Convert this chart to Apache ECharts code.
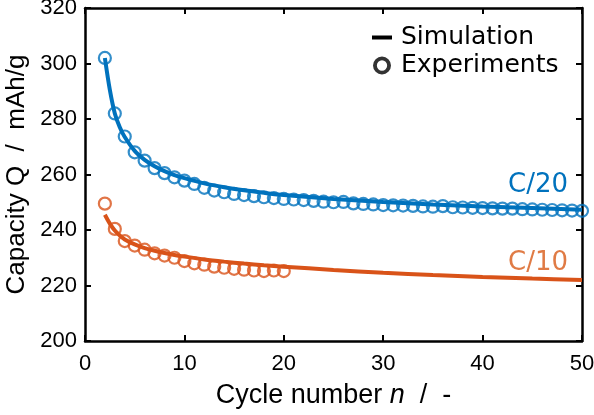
<!DOCTYPE html>
<html>
<head>
<meta charset="utf-8">
<script src="https://cdn.jsdelivr.net/npm/echarts@6/dist/echarts.min.js"></script>
<style>
  html, body { margin: 0; padding: 0; background: #fff; }
  #myCharts { width: 594px; height: 415px; }
</style>
</head>
<body>
<div id="myCharts"></div>
<script>
// experiment cycles
const cycles20 = [2, 3, 4, 5, 6, 7, 8, 9, 10, 11, 12, 13, 14, 15, 16, 17, 18, 19, 20, 21, 22, 23, 24, 25, 26,
  27, 28, 29, 30, 31, 32, 33, 34, 35, 36, 37, 38, 39, 40, 41, 42, 43, 44, 45, 46, 47, 48, 49, 50];
const exp20 = [302, 282, 273.7, 268, 265, 262.3, 260.5, 259, 257.8, 256.6, 255.2, 254.2, 253.6, 253, 252.6, 252.2, 251.8, 251.5, 251.2, 251, 250.8,
  250.5, 250.2, 250, 250.1, 249.6, 249.4, 249.2, 249, 248.9, 248.8, 248.7, 248.5, 248.4, 248.6, 248.2, 248.1, 248, 247.9,
  247.8, 247.7, 247.7, 247.5, 247.4, 247.3, 247.2, 247.1, 247, 246.9];
const cycles10 = [2, 3, 4, 5, 6, 7, 8, 9, 10, 11, 12, 13, 14, 15, 16, 17, 18, 19, 20];
const exp10 = [249.5, 240.4, 236, 234.4, 232.9, 231.6, 230.8, 230, 228.8, 228, 227.5, 226.8, 226.4, 226, 225.7, 225.4, 225.2, 225.4, 225.2];

// simulation curves
const simN = [2, 2.5, 3, 3.5, 4, 5, 6, 7, 8, 9, 10, 12, 14, 16, 18, 20, 25, 30, 35, 40, 45, 50];
const sim20 = [302, 290.5, 282, 277, 273.5, 268.5, 265.3, 263, 261.2, 259.8, 258.7, 256.8, 255.4, 254.3, 253.4, 252.6, 251.2, 250.1, 249.2, 248.5, 247.9, 247.3];
const sim10 = [245.5, 242.3, 239.8, 238, 236.6, 234.8, 233.5, 232.5, 231.7, 231, 230.4, 229.4, 228.6, 227.9, 227.3, 226.8, 225.6, 224.6, 223.8, 223.1, 222.5, 222.0];

const xTicks = [0, 10, 20, 30, 40, 50];
const yTicks = [200, 220, 240, 260, 280, 300, 320];

const blue = "#0072BD";
const orange = "#D95319";

// filled ring, so the legend circle gets a thick black outline
const ringIcon = "path://M0,7 A7,7 0 1,0 14,7 A7,7 0 1,0 0,7 Z M3,7 A4,4 0 1,1 11,7 A4,4 0 1,1 3,7 Z";

const zip = (xs, ys) => xs.map((x, i) => [x, ys[i]]);

const axisBase = {
  type: "value",
  axisLine: { show: true, onZero: false, lineStyle: { color: "#000", width: 2.5 } },
  axisTick: { show: true, inside: true, length: 6, lineStyle: { color: "#000", width: 2 } },
  splitLine: { show: false },
};

const myCharts = echarts.init(document.getElementById("myCharts"));

let options = {
  animation: false,
  // keep the plot box fixed, do not shrink it for the axis names
  grid: { left: 85, right: 12, top: 8, bottom: 74, outerBoundsMode: "none", containLabel: false },
  legend: {
    orient: "vertical",
    left: 365,
    top: 20,
    itemGap: 3,
    itemWidth: 20,
    itemHeight: 18,
    symbolKeepAspect: true,
    textStyle: { fontFamily: "DejaVu Sans", fontSize: 25, color: "#000", padding: [0, 0, 0, 4] },
    data: [
      // hide the point on the line icon, keep only a short bar
      { name: "Simulation", itemStyle: { opacity: 0 }, lineStyle: { color: "#000", width: 4 } },
      { name: "Experiments", icon: ringIcon, itemStyle: { color: "#000", borderWidth: 0 } },
    ],
  },
  xAxis: [
    {
      ...axisBase,
      min: xTicks[0],
      max: xTicks[xTicks.length - 1],
      interval: 10,
      axisLabel: { color: "#000", fontSize: 22, fontFamily: "Liberation Sans", margin: 12 },
      name: "Cycle number {i|n}  /  -",
      nameLocation: "middle",
      nameGap: 41,
      nameTextStyle: {
        color: "#000", fontSize: 27, fontFamily: "Liberation Sans",
        rich: { i: { fontStyle: "italic", fontSize: 27, fontFamily: "Liberation Sans", color: "#000" } },
      },
    },
    { ...axisBase, position: "top", min: 0, max: 50, interval: 10, axisLabel: { show: false } },
  ],
  yAxis: [
    {
      ...axisBase,
      min: yTicks[0],
      max: yTicks[yTicks.length - 1],
      interval: 20,
      axisLabel: { color: "#000", fontSize: 22, fontFamily: "Liberation Sans", margin: 8 },
      name: "Capacity Q  /  mAh/g",
      nameLocation: "middle",
      nameGap: 45,
      nameTextStyle: { color: "#000", fontSize: 26, fontFamily: "Liberation Sans" },
    },
    { ...axisBase, position: "right", min: 200, max: 320, interval: 20, axisLabel: { show: false } },
  ],
  series: [
    // dummy series just for the black legend icons
    { name: "Simulation", type: "line", data: [], symbol: "none", color: "#000", lineStyle: { color: "#000", width: 4 } },
    { name: "Experiments", type: "scatter", data: [], symbol: "circle", color: "#000" },
    {
      name: "exp C/20", type: "scatter", data: zip(cycles20, exp20), symbol: "circle", symbolSize: 12, z: 2,
      itemStyle: { color: "transparent", borderColor: blue, borderWidth: 2.2 },
    },
    {
      name: "exp C/10", type: "scatter", data: zip(cycles10, exp10), symbol: "circle", symbolSize: 12, z: 2,
      itemStyle: { color: "transparent", borderColor: orange, borderWidth: 2.2 },
    },
    {
      name: "sim C/20", type: "line", data: zip(simN, sim20), smooth: 0.3, symbol: "none", z: 3,
      lineStyle: { color: blue, width: 4 },
      endLabel: {
        show: true, formatter: "C/20", color: blue, fontSize: 26, fontFamily: "DejaVu Sans",
        align: "right", verticalAlign: "bottom", offset: [-22, -11],
      },
    },
    {
      name: "sim C/10", type: "line", data: zip(simN, sim10), smooth: 0.3, symbol: "none", z: 3,
      lineStyle: { color: orange, width: 4 },
      endLabel: {
        show: true, formatter: "C/10", color: "#E07B45", fontSize: 26, fontFamily: "DejaVu Sans",
        align: "right", verticalAlign: "bottom", offset: [-22, -4],
      },
    },
  ],
};

myCharts.setOption(options);
</script>
</body>
</html>
